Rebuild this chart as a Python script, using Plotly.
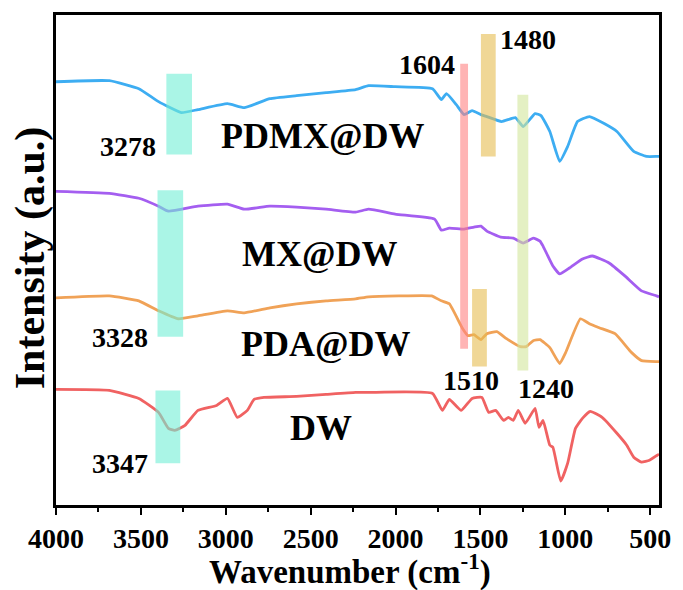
import plotly.graph_objects as go

# ---------------- data ----------------
wn_pdmx = [4000, 3686, 3512, 3396, 3262, 3164, 2990, 2891, 2740, 2583, 2409, 2235, 2159, 2002,
           1782, 1730, 1700, 1642, 1596, 1549, 1497, 1462, 1375, 1294, 1248, 1178,
           1143, 1091, 1033, 986, 928, 858, 771, 696, 597, 522, 458, 448]
int_pdmx = [4.25, 4.26, 4.18, 4.05, 3.94, 3.97, 4.03, 3.99, 4.08, 4.11, 4.14, 4.17, 4.21, 4.20,
            4.18, 4.07, 4.13, 4.02, 3.92, 3.96, 3.92, 3.90, 3.85, 3.89, 3.80, 3.93,
            3.91, 3.75, 3.45, 3.60, 3.85, 3.90, 3.83, 3.75, 3.55, 3.50, 3.50, 3.50]

wn_mx = [4000, 3686, 3512, 3396, 3338, 3164, 2990, 2891, 2740, 2583, 2409, 2235, 2159, 2002,
         1770, 1730, 1683, 1596, 1538, 1497, 1462, 1381, 1306, 1248, 1189, 1149, 1131, 1073,
         1033, 975, 899, 841, 742, 649, 551, 463, 448]
int_mx = [3.15, 3.13, 3.08, 3.00, 2.95, 3.00, 3.02, 2.97, 3.00, 2.99, 2.97, 2.94, 2.97, 2.92,
          2.87, 2.76, 2.78, 2.77, 2.79, 2.80, 2.75, 2.69, 2.68, 2.63, 2.68, 2.65, 2.60, 2.40,
          2.32, 2.38, 2.47, 2.50, 2.43, 2.30, 2.15, 2.10, 2.09]

wn_pda = [4000, 3686, 3512, 3396, 3280, 3164, 2990, 2891, 2740, 2583, 2409, 2235, 2159, 1980,
          1788, 1730, 1683, 1608, 1573, 1538, 1497, 1462, 1403, 1346, 1265, 1230, 1189, 1149,
          1091, 1033, 998, 911, 858, 800, 707, 609, 551, 463, 448]
int_pda = [2.08, 2.10, 2.05, 1.95, 1.87, 1.90, 1.95, 1.93, 1.98, 2.02, 2.05, 2.07, 2.09, 2.10,
           2.10, 2.05, 2.02, 1.78, 1.70, 1.71, 1.66, 1.72, 1.74, 1.67, 1.59, 1.59, 1.65, 1.66,
           1.58, 1.42, 1.53, 1.87, 1.82, 1.78, 1.72, 1.53, 1.45, 1.44, 1.44]

wn_dw = [4000, 3686, 3512, 3396, 3338, 3300, 3240, 3164, 3054, 2990, 2932, 2873, 2833, 2775,
         2583, 2409, 2235, 2159, 1782, 1724, 1683, 1613, 1549, 1491, 1451, 1410, 1364, 1335,
         1306, 1277, 1236, 1178, 1155, 1131, 1091, 1073, 1027, 986, 940, 899, 853, 783, 696,
         638, 597, 551, 504, 458, 448]
int_dw = [1.16, 1.15, 1.07, 0.93, 0.77, 0.75, 0.80, 0.95, 1.00, 1.07, 0.88, 0.95, 1.06, 1.08,
          1.09, 1.11, 1.13, 1.13, 1.12, 0.95, 1.06, 0.95, 1.07, 1.08, 0.93, 0.95, 0.85, 0.88,
          0.85, 0.95, 0.82, 0.97, 0.78, 0.85, 0.60, 0.58, 0.24, 0.42, 0.77, 0.87, 0.94, 0.88, 0.72,
          0.60, 0.48, 0.43, 0.45, 0.50, 0.51]

series_names = ["PDMX@DW", "MX@DW", "PDA@DW", "DW"]
series_colors = ["#3DADF2", "#A45EF0", "#F0A257", "#F06262"]

# highlight bands: (wn_start, wn_end, int_low, int_high, colour)
band_x0 = [3350, 3402, 3414, 1619, 1497, 1549, 1282]
band_x1 = [3199, 3251, 3268, 1573, 1410, 1462, 1218]
band_y0 = [3.52, 1.69, 0.42, 1.57, 3.50, 1.39, 1.35]
band_y1 = [4.33, 3.16, 1.15, 4.43, 4.73, 2.17, 4.12]
band_colors = ["#71EED5", "#71EED5", "#71EED5", "#FF8282", "#E6BC50", "#E6BC50", "#D2E69B"]

# peak labels
peak_text = ["1604", "1480", "3278", "3328", "3347", "1510", "1240"]
peak_wn = [1817, 1218, 3576, 3623, 3623, 1555, 1114]
peak_int = [4.42, 4.67, 3.60, 1.68, 0.42, 1.25, 1.17]

# sample labels
name_wn = [2432, 2450, 2415, 2438]
name_int = [3.71, 2.52, 1.62, 0.77]

tick_vals = [4000, 3500, 3000, 2500, 2000, 1500, 1000, 500]

# ---------------- figure ----------------
fig = go.Figure()
xs = [wn_pdmx, wn_mx, wn_pda, wn_dw]
ys = [int_pdmx, int_mx, int_pda, int_dw]
for name, x, y, c in zip(series_names, xs, ys, series_colors):
    fig.add_trace(go.Scatter(x=x, y=y, mode="lines", name=name,
                             line=dict(color=c, width=2.8, shape="spline", smoothing=0.4),
                             showlegend=False))

for x0, x1, y0, y1, c in zip(band_x0, band_x1, band_y0, band_y1, band_colors):
    fig.add_shape(type="rect", xref="x", yref="y", x0=x0, x1=x1, y0=y0, y1=y1,
                  fillcolor=c, opacity=0.6, line=dict(width=0), layer="above")

serif = "Liberation Serif, Times New Roman, serif"
for t, x, y in zip(peak_text, peak_wn, peak_int):
    fig.add_annotation(x=x, y=y, text=t, showarrow=False, xref="x", yref="y",
                       font=dict(family=serif, size=28, color="black", weight="bold"))
for t, x, y in zip(series_names, name_wn, name_int):
    fig.add_annotation(x=x, y=y, text=t, showarrow=False, xref="x", yref="y",
                       font=dict(family=serif, size=36, color="black", weight="bold"))

fig.add_annotation(x=-0.042, y=0.505, xref="paper", yref="paper", text="Intensity (a.u.)",
                   textangle=-90, showarrow=False, xanchor="center", yanchor="middle",
                   font=dict(family=serif, size=42, color="black", weight="bold"))
fig.add_annotation(x=0.488, y=-0.132, xref="paper", yref="paper",
                   text="Wavenumber (cm<sup>-1</sup>)", showarrow=False,
                   xanchor="center", yanchor="middle",
                   font=dict(family=serif, size=33, color="black", weight="bold"))

fig.update_layout(
    width=683, height=590,
    margin=dict(l=56, r=15, t=13, b=85),
    plot_bgcolor="white", paper_bgcolor="white",
)
fig.update_xaxes(range=[4000, 448], tickvals=tick_vals, ticks="outside", ticklen=7, tickwidth=2,
                 tickcolor="black", showgrid=False, zeroline=False,
                 showline=True, linecolor="black", linewidth=2.5, mirror=True,
                 minor=dict(dtick=250, ticks="outside", ticklen=4, tickwidth=2, tickcolor="black"),
                 tickfont=dict(family=serif, size=28, color="black", weight="bold"))
fig.update_yaxes(range=[0, 4.92], showticklabels=False, ticks="", showgrid=False, zeroline=False,
                 showline=True, linecolor="black", linewidth=2.5, mirror=True)

fig.write_html("out.html")
